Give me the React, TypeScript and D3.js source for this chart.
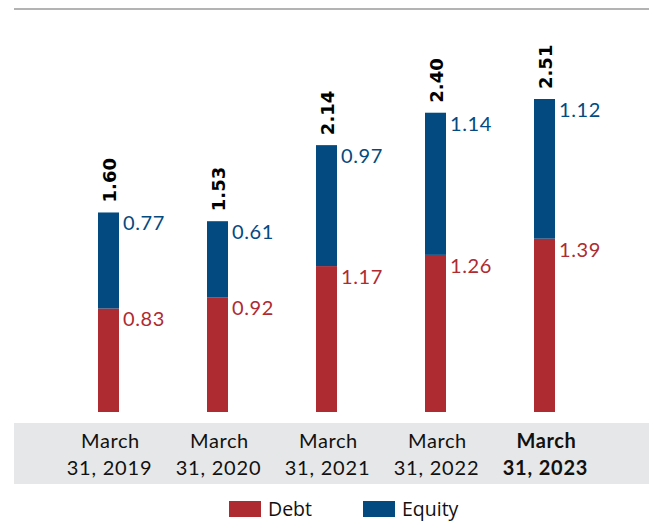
import React from "react";
import * as d3 from "d3";

const categoriesLine1 = ["March", "March", "March", "March", "March"];
const categoriesLine2 = ["31, 2019", "31, 2020", "31, 2021", "31, 2022", "31, 2023"];
const categoryKeys = ["2019", "2020", "2021", "2022", "2023"];
const debt = [0.83, 0.92, 1.17, 1.26, 1.39];
const equity = [0.77, 0.61, 0.97, 1.14, 1.12];
const totals = ["1.60", "1.53", "2.14", "2.40", "2.51"];
const boldIndex = 4;

const RED = "#AE2B31";
const BLUE = "#034A80";

export default function App() {
  const W = 649, H = 523;
  const x = d3.scalePoint<string>().domain(categoryKeys).range([108.5, 544.5]);
  const y = d3.scaleLinear().domain([0, 2.51]).range([412, 99]);
  const bw = 21;
  const font = "Lato, 'Open Sans', sans-serif";

  return (
    <svg width={W} height={H} style={{ position: "absolute", left: 0, top: 0, display: "block" }}>
      <rect x={0} y={0} width={W} height={H} fill="#fff" />
      <line x1={14} x2={649} y1={9} y2={9} stroke="#9a9a9a" strokeWidth={1.5} />
      <rect x={14} y={423} width={635} height={61} fill="#E6E7E8" />
      {categoryKeys.map((k, i) => {
        const cx = x(k)!;
        const d = debt[i], e = equity[i];
        const yDebtTop = y(d);
        const yEqTop = y(d + e);
        const bold = i === boldIndex;
        return (
          <g key={k}>
            <rect x={cx - bw / 2} y={yDebtTop} width={bw} height={y(0) - yDebtTop} fill={RED} />
            <rect x={cx - bw / 2} y={yEqTop} width={bw} height={yDebtTop - yEqTop} fill={BLUE} />
            <text x={cx + bw / 2 + 4} y={yEqTop + 18} fontFamily={font} fontSize={20} letterSpacing={0.6} fill={BLUE}>
              {e.toFixed(2)}
            </text>
            <text x={cx + bw / 2 + 4} y={yDebtTop + 18} fontFamily={font} fontSize={20} letterSpacing={0.6} fill={RED}>
              {d.toFixed(2)}
            </text>
            <text
              transform={`translate(${cx + 7.5},${yEqTop - 10}) rotate(-90)`}
              fontFamily="'DejaVu Sans', sans-serif"
              fontWeight="bold"
              fontSize={18}
              fill="#000"
            >
              {totals[i]}
            </text>
            <text x={cx + 2} y={448} textAnchor="middle" fontFamily={font} fontSize={20} letterSpacing={0.6} fontWeight={bold ? "bold" : "normal"} fill="#111">
              {categoriesLine1[i]}
            </text>
            <text x={cx + 1} y={475} textAnchor="middle" fontFamily={font} fontSize={20} letterSpacing={0.8} fontWeight={bold ? "bold" : "normal"} fill="#111">
              {categoriesLine2[i]}
            </text>
          </g>
        );
      })}
      <rect x={229} y={501} width={32} height={16} fill={RED} />
      <text x={268} y={516} fontFamily="'Open Sans', sans-serif" fontSize={19.5} fill="#111">Debt</text>
      <rect x={363} y={501} width={32} height={16} fill={BLUE} />
      <text x={402} y={516} fontFamily="'Open Sans', sans-serif" fontSize={19.5} fill="#111">Equity</text>
    </svg>
  );
}
